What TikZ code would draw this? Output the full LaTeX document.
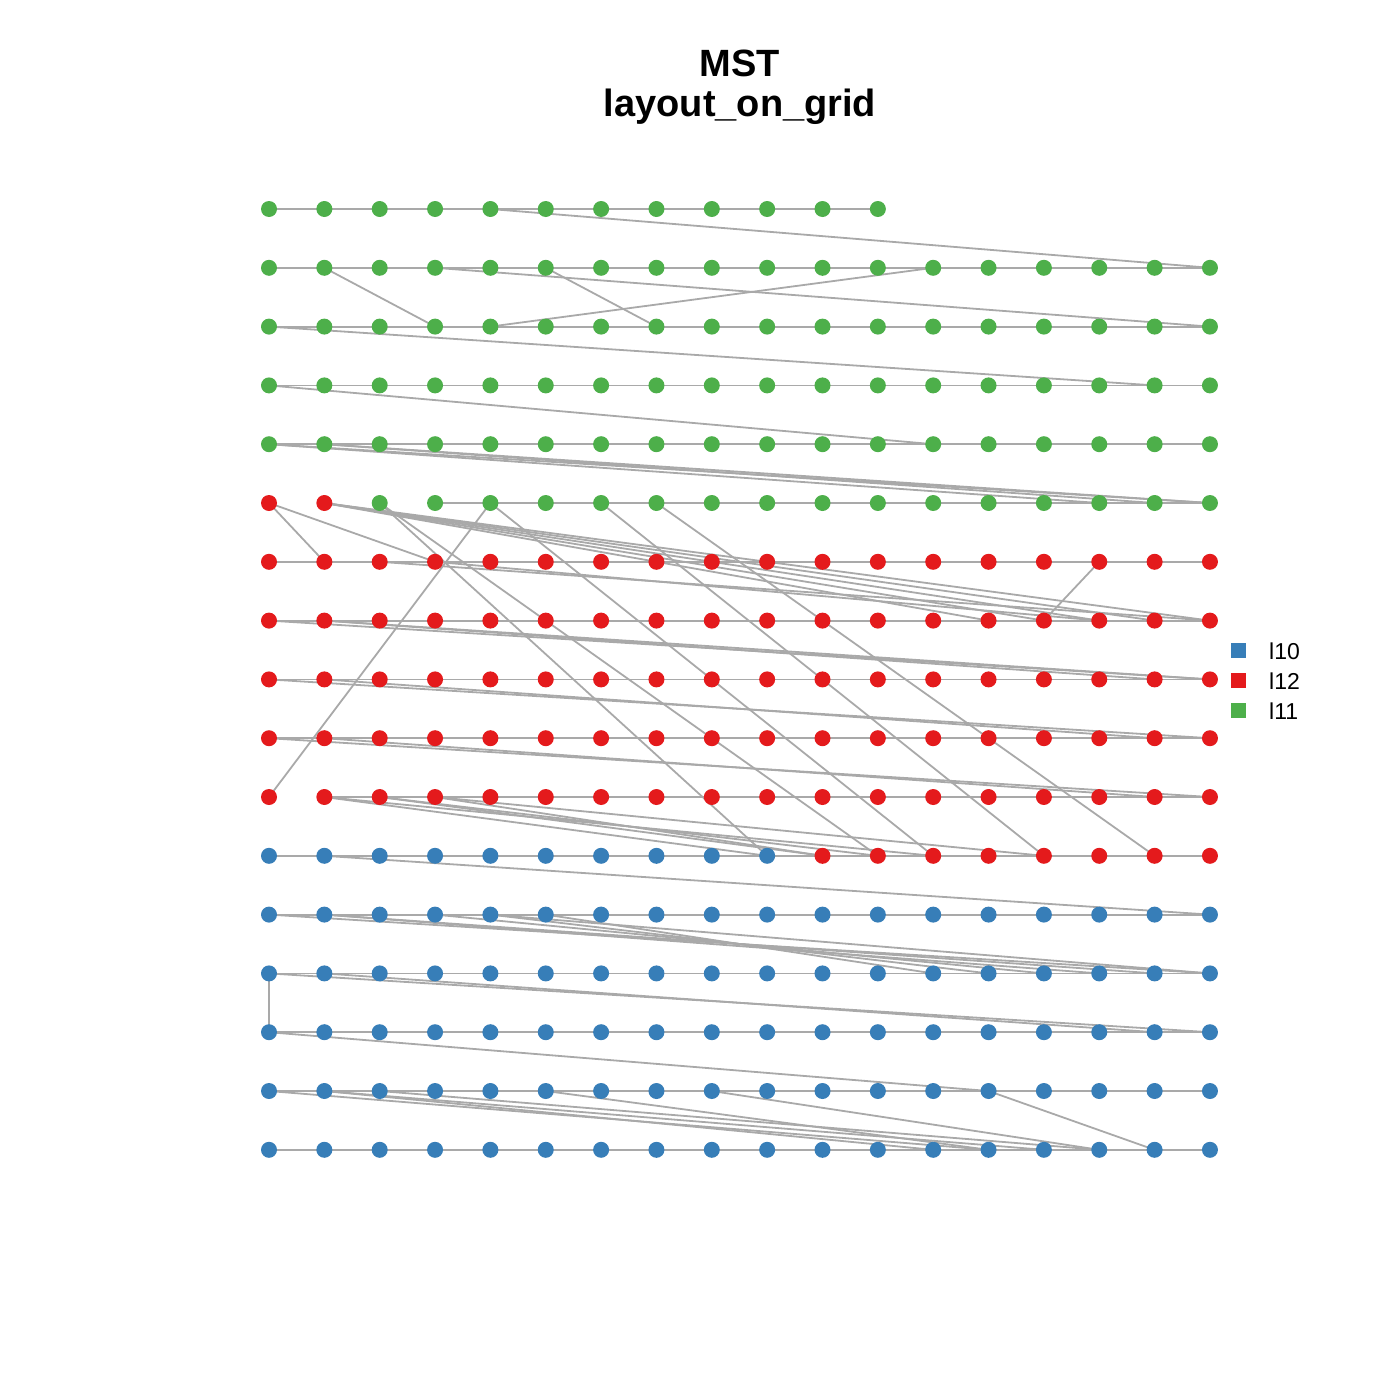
\documentclass[tikz,border=0pt]{standalone}
\usepackage{fontspec}
\setmainfont{Liberation Sans}
\definecolor{cblue}{HTML}{377EB8}
\definecolor{cred}{HTML}{E41A1C}
\definecolor{cgreen}{HTML}{4DAF4A}
\definecolor{edgegray}{HTML}{A9A9A9}
\begin{document}
\begin{tikzpicture}[x=1pt,y=-1pt,
  edge/.style={draw=edgegray,line width=1.8pt},
  dot/.style={circle,inner sep=0pt,minimum size=16pt,draw=none},
  keybox/.style={inner sep=0pt,minimum size=15pt,draw=none},
  keytext/.style={anchor=west,font=\fontsize{23}{26}\selectfont,inner sep=0pt},
  titletext/.style={anchor=base,font=\bfseries\fontsize{38}{42}\selectfont,inner sep=0pt}]
\useasboundingbox (0,0) rectangle (1400,1400);
\foreach \r in {0,...,16}{
  \foreach \c in {0,...,17}{
    \coordinate (n-\r-\c) at ({269+55.35*\c},{209+58.8*\r});
  }
}
% horizontal edges
\foreach \r/\s/\e in {0/0/10,1/0/16,2/0/16,3/0/16,4/0/16,5/3/16,6/0/16,7/0/16,8/0/16,9/0/16,10/1/16,11/0/16,12/0/16,13/0/16,14/0/16,15/0/16,16/0/16}{
  \foreach \c in {\s,...,\e}{
    \pgfmathtruncatemacro\d{\c+1}
    \draw[edge] (n-\r-\c) -- (n-\r-\d);
  }
}
% long edges
\foreach \a/\b/\p/\q in {
  0/4/1/17, 1/1/2/3, 1/3/2/17, 1/5/2/7, 2/4/1/12, 2/0/3/16, 3/0/4/12,
  4/0/5/17, 4/1/5/17, 4/1/5/16, 4/0/5/15,
  5/0/6/1, 5/0/6/3, 5/1/7/17, 5/1/7/15, 5/1/7/14, 5/1/7/13, 5/1/7/16,
  6/2/7/17, 6/3/7/15,
  7/14/6/15,
  5/2/11/9, 5/2/11/11, 10/0/5/4, 5/4/11/12, 5/6/11/14, 5/7/11/16,
  7/0/8/17, 7/1/8/17, 7/1/8/16,
  8/0/9/17, 8/1/9/16,
  9/0/10/17, 9/1/10/16,
  10/1/11/9, 10/1/11/12, 10/2/11/10, 10/2/11/11, 10/3/11/14, 10/3/11/10,
  11/1/12/17,
  12/0/13/17, 12/1/13/16, 12/1/13/15, 12/3/13/14, 12/4/13/13, 12/5/13/12, 12/4/13/17,
  13/0/14/0, 13/0/14/17, 13/1/14/16,
  14/0/15/13, 15/13/16/16,
  15/0/16/13, 15/1/16/12, 15/1/16/14, 15/2/16/15, 15/5/16/13, 15/8/16/15}{
  \draw[edge] (n-\a-\b) -- (n-\p-\q);
}
% vertices
\foreach \r/\s/\e/\col in {0/0/11/cgreen,1/0/17/cgreen,2/0/17/cgreen,3/0/17/cgreen,4/0/17/cgreen,5/2/17/cgreen,5/0/1/cred,6/0/17/cred,7/0/17/cred,8/0/17/cred,9/0/17/cred,10/0/17/cred,11/10/17/cred,11/0/9/cblue,12/0/17/cblue,13/0/17/cblue,14/0/17/cblue,15/0/17/cblue,16/0/17/cblue}{
  \foreach \c in {\s,...,\e}{
    \node[dot,fill=\col] (v-\r-\c) at (n-\r-\c) {};
  }
}
% title
\node[titletext] (title) at (740,76) {MST};
\node[titletext] (subtitle) at (740,116) {layout\_on\_grid};
% legend
\node[keybox,fill=cblue] (k1) at (1238,650) {};
\node[keybox,fill=cred] (k2) at (1238,680) {};
\node[keybox,fill=cgreen] (k3) at (1238,710) {};
\node[keytext] (t1) at (1269,651) {l10};
\node[keytext] (t2) at (1269,681) {l12};
\node[keytext] (t3) at (1269,711) {l11};
\end{tikzpicture}
\end{document}
